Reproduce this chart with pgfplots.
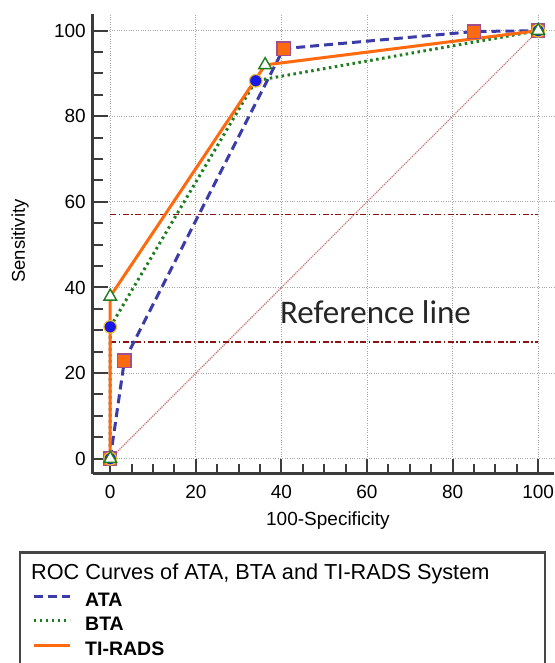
\documentclass[border=0pt]{standalone}
\usepackage{fontspec}
\setmainfont{Liberation Sans}
\newfontfamily\calibri{Carlito}
\usepackage{pgfplots}
\pgfplotsset{compat=1.18}

\definecolor{ataBlue}{RGB}{60,60,168}
\definecolor{btaGreen}{RGB}{30,125,30}
\definecolor{tiOrange}{RGB}{255,106,16}
\definecolor{sqEdge}{RGB}{160,80,140}
\definecolor{circFill}{RGB}{25,25,230}
\definecolor{circEdge}{RGB}{240,190,50}
\definecolor{refRed}{RGB}{140,20,20}
\definecolor{diagRed}{RGB}{195,110,110}
\definecolor{gridGray}{RGB}{165,165,165}
\definecolor{axisGray}{RGB}{60,60,60}
\definecolor{boxGray}{RGB}{70,70,70}

\begin{document}
\begin{tikzpicture}
\useasboundingbox (-92.7pt,-189.5pt) rectangle (461.3pt,473.5pt);
\begin{axis}[
  scale only axis,
  width=461.3pt, height=459.5pt,
  xmin=-4.1, xmax=103.7,
  ymin=-3.46, ymax=103.9,
  axis x line*=bottom, axis y line*=left,
  x axis line style={-}, y axis line style={-},
  axis line style={line width=2.6pt, color=axisGray},
  xtick={0,20,...,100}, ytick={0,20,...,100},
  minor tick num=3,
  tick align=inside,
  major tick length=15pt, minor tick length=10pt,
  tick style={line width=2pt, color=axisGray},
  xmajorgrids, ymajorgrids,
  major grid style={dotted, line width=1pt, color=gridGray},
  /pgf/number format/assume math mode=true,
  tick label style={font=\fontsize{19}{22}\selectfont, color=black},
  xticklabel style={inner sep=0pt, anchor=north, yshift=-11.5pt},
  yticklabel style={inner sep=0pt, anchor=east, xshift=-6.7pt},
  xlabel={100-Specificity},
  ylabel={Sensitivity},
  every axis x label/.style={at={(axis description cs:0.510,-0.1034)}, anchor=center, font=\fontsize{19}{22}\selectfont},
  every axis y label/.style={at={(axis description cs:-0.1576,0.506)}, anchor=center, rotate=90, font=\fontsize{18.5}{22}\selectfont},
  legend style={at={(axis description cs:-0.1316,-0.2579)}, anchor=north west,
    draw=none, fill=none, inner sep=0pt, row sep=6.5pt,
    font=\bfseries\fontsize{19.5}{22}\selectfont,
    nodes={inner sep=0pt, text height=14pt, text depth=4pt},
    /tikz/column sep=14pt},
  legend cell align=left,
  legend image code/.code={\draw[#1] (0pt,5pt) -- (36pt,5pt);},
]
% chance diagonal
\addplot[diagRed, line width=1.2pt, densely dotted, forget plot] coordinates {(0,0) (100,100)};
% reference lines
\addplot[refRed, line width=1.4pt, dash pattern=on 6pt off 2.5pt on 1.5pt off 2.5pt, forget plot] coordinates {(0,57.0) (100,57.0)};
\addplot[refRed, line width=1.4pt, dash pattern=on 6pt off 2.5pt on 1.5pt off 2.5pt, forget plot] coordinates {(0,27.3) (100,27.3)};

% curves
\addplot[ataBlue, line width=3pt, dash pattern=on 9pt off 5pt] coordinates {
  (0,0) (3.3,22.9) (40.5,95.8) (85,99.8) (100,100)
};
\addlegendentry{ATA}
\addplot[btaGreen, line width=3pt, dash pattern=on 2.5pt off 3.5pt] coordinates {
  (0,0) (0,30.8) (34,88.3) (100,100)
};
\addlegendentry{BTA}
\addplot[tiOrange, line width=3pt] coordinates {
  (0,0) (0,37.9) (36.2,92) (100,100)
};
\addlegendentry{TI-RADS}

% markers
\addplot[only marks, mark=square*, mark size=6.6pt, mark options={fill=tiOrange, draw=sqEdge, line width=1.2pt}, forget plot] coordinates {
  (0,0) (3.3,22.9) (40.5,95.8) (85,99.8) (100,100)
};
\addplot[only marks, mark=*, mark size=6.3pt, mark options={fill=circFill, draw=circEdge, line width=1.2pt}, forget plot] coordinates {
  (0,0) (0,30.8) (34,88.3) (100,100)
};
\addplot[only marks, mark=triangle*, mark size=7.3pt, mark options={fill=white, draw=btaGreen, line width=1.4pt}, forget plot] coordinates {
  (0,0) (0,37.9) (36.2,92) (100,100)
};

\node[anchor=base west, inner sep=0pt, font=\calibri\fontsize{33}{38}\selectfont, text=black!85] at (axis cs:39.65,31.7) {Reference line};
\end{axis}
% legend frame and title
\draw[boxGray, line width=2.6pt] (-72.7pt,-200pt) -- (-72.7pt,-79pt) -- (452.3pt,-79pt) -- (452.3pt,-200pt);
\node[anchor=base west, inner sep=0pt, font=\fontsize{21.7}{24}\selectfont] at (-61.7pt,-106pt) {ROC Curves of ATA, BTA and TI-RADS System};
\end{tikzpicture}
\end{document}
